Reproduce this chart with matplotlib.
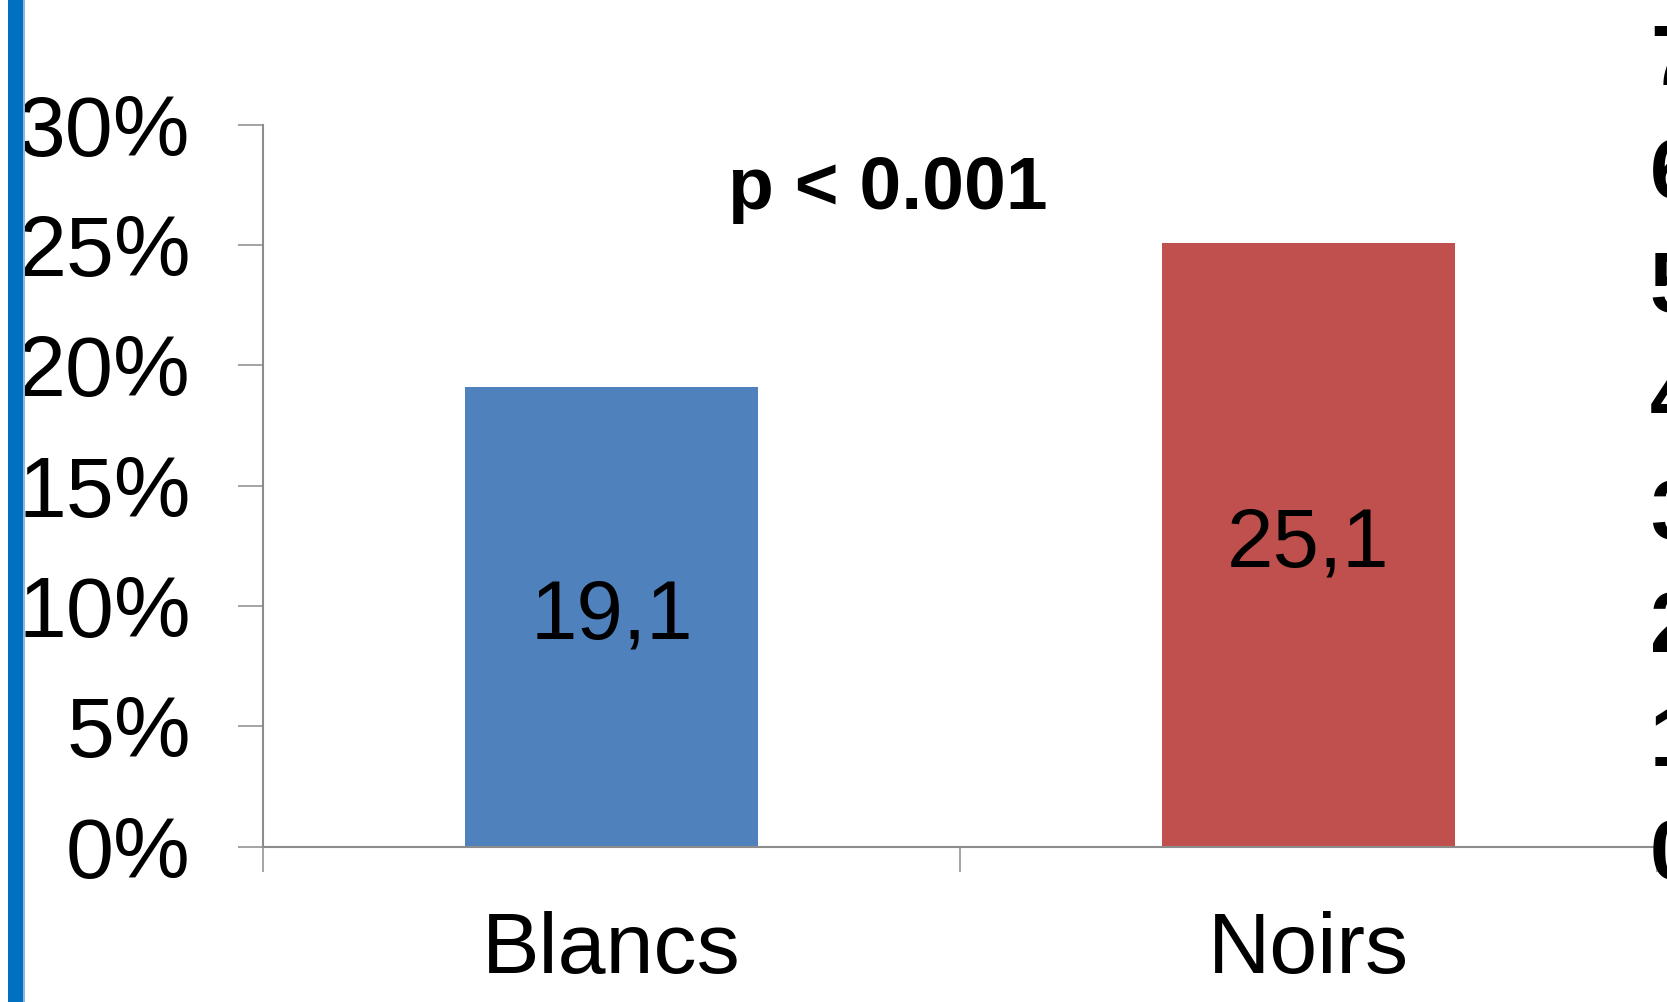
import matplotlib
matplotlib.use("Agg")
import matplotlib.pyplot as plt
from matplotlib.ticker import PercentFormatter, FixedLocator
from matplotlib.patches import Rectangle

plt.rcParams['font.family'] = ['Liberation Sans', 'DejaVu Sans']

categories = ["Blancs", "Noirs"]
values = [19.1, 25.1]
value_labels = ["19,1", "25,1"]
bar_colors = ["#4F81BD", "#C0504D"]
left_ticks = [0, 5, 10, 15, 20, 25, 30]
right_ticks = [0, 1, 2, 3, 4, 5, 6, 7]
p_text = "p < 0.001"

W, H = 1667, 1002
fig = plt.figure(figsize=(W / 100, H / 100), dpi=100)
fig.patch.set_facecolor("white")

# blue vertical stripe on the left
fig.patches.append(Rectangle((7.5 / W, 0), 15.5 / W, 1, transform=fig.transFigure,
                             facecolor="#0070C0", edgecolor="none", zorder=5))
fig.patches.append(Rectangle((23 / W, 0), 1.5 / W, 1, transform=fig.transFigure,
                             facecolor="#8DB8E0", edgecolor="none", zorder=5))

ax_left, ax_right = 263 / W, 1657 / W
ax_bottom, ax_top = 1 - 846.7 / H, 1 - 124.7 / H
ax = fig.add_axes([ax_left, ax_bottom, ax_right - ax_left, ax_top - ax_bottom])

x = list(range(len(categories)))
ax.bar(x, values, width=0.42, color=bar_colors, zorder=2)
for xi, v, lab in zip(x, values, value_labels):
    ax.text(xi, v / 2, lab, ha="center", va="center", fontsize=60, color="black")

ax.set_xlim(-0.5, 1.5)
ax.set_ylim(0, 30)
ax.set_yticks(left_ticks)
ax.yaxis.set_major_formatter(PercentFormatter(decimals=0))

gray = "#8C8C8C"
for s in ["top", "right"]:
    ax.spines[s].set_visible(False)
for s in ["left", "bottom"]:
    ax.spines[s].set_color(gray)
    ax.spines[s].set_linewidth(1.5)
ax.tick_params(axis="y", length=18, width=1.1, color=gray, pad=34, labelsize=62)
ax.set_xticks(x)
ax.set_xticklabels(categories)
ax.tick_params(axis="x", which="major", length=0, pad=46, labelsize=62)
ax.xaxis.set_minor_locator(FixedLocator([-0.5, 0.5, 1.5]))
ax.tick_params(axis="x", which="minor", length=18, width=1.1, color=gray)

# right-side secondary axis labels (partly cut off at the figure edge)
r_bottom = 1 - 848 / H
r_top = 1 - 54 / H
ax2 = fig.add_axes([0.5, r_bottom, 1647 / W - 0.5, r_top - r_bottom])
ax2.set_ylim(0, 7)
ax2.set_yticks(right_ticks)
ax2.yaxis.tick_right()
ax2.tick_params(axis="y", length=0, pad=2, labelsize=62)
for t in ax2.get_yticklabels():
    t.set_fontweight("bold")
ax2.set_xticks([])
ax2.patch.set_visible(False)
for s in ax2.spines.values():
    s.set_visible(False)

fig.text(888 / W, 1 - 190 / H, p_text, ha="center", va="center",
         fontsize=54, fontweight="bold")

fig.savefig("out.png", dpi=100)
